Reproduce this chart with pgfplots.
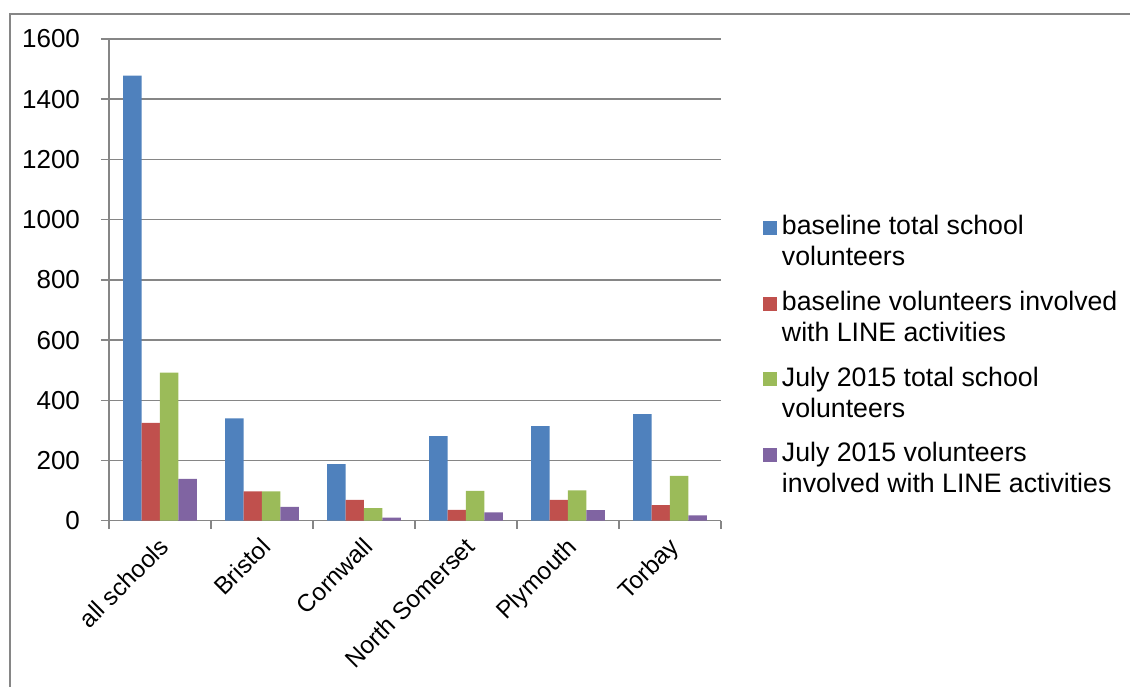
\documentclass[border=0pt]{standalone}
\usepackage{pgfplots}
\pgfplotsset{compat=1.18}
\usepackage{fontspec}
\setmainfont{Liberation Sans}
\definecolor{sblue}{HTML}{4F81BD}
\definecolor{sred}{HTML}{C0504D}
\definecolor{sgreen}{HTML}{9BBB59}
\definecolor{spurple}{HTML}{8064A2}
\definecolor{axgray}{HTML}{868686}
\begin{document}
\fontsize{13}{15.5}\selectfont
\begin{tikzpicture}
\useasboundingbox (-54.5pt,-82.65pt) rectangle (510.5pt,260.35pt);
\draw[color=axgray, line width=1pt] (-49.65pt,-120pt) |- (620pt,253.5pt);
\begin{axis}[
  scale only axis,
  width=306pt, height=240.85pt,
  ybar=0pt, bar width=0.181,
  xmin=-0.5, xmax=5.5,
  ymin=0, ymax=1600,
  enlargelimits=false,
  ytick={0,200,...,1600},
  xtick={-0.5,0.5,...,5.5},
  x tick label as interval,
  xticklabels={all schools,Bristol,Cornwall,North Somerset,Plymouth,Torbay},
  axis x line*=bottom, axis y line*=left,
  axis line style={axgray, line width=0.75pt},
  tick align=outside,
  major tick length=4pt,
  tick style={axgray, line width=0.75pt},
  ymajorgrids, grid style={axgray, line width=0.75pt},
  scaled y ticks=false,
  /pgf/number format/1000 sep={},
  /pgf/number format/assume math mode=true,
  tick label style={font=\fontsize{13}{15.5}\selectfont, text=black},
  yticklabel style={xshift=-6pt},
  xticklabel style={font=\fontsize{12.2}{14.5}\selectfont, xshift=-1.2pt, yshift=-0.6pt, rotate=45, anchor=north east, inner sep=2pt},
  legend image code/.code={\fill[#1] (0pt,0pt) rectangle (7pt,7pt);},
  legend style={at={(1.0686,0.6382)}, anchor=north west, draw=none, fill=none,
    inner sep=0pt, outer sep=0pt, row sep=25pt, column sep=2.5pt,
    cells={anchor=base west},
    nodes={inner sep=0pt, font=\fontsize{13.35}{15.5}\selectfont}},
]
\addplot[fill=sblue, draw=none] coordinates {(0,1478) (1,340) (2,188) (3,281) (4,314) (5,354)};
\addplot[fill=sred, draw=none] coordinates {(0,325) (1,97) (2,69) (3,36) (4,69) (5,52)};
\addplot[fill=sgreen, draw=none] coordinates {(0,492) (1,97) (2,42) (3,99) (4,101) (5,149)};
\addplot[fill=spurple, draw=none] coordinates {(0,139) (1,46) (2,10) (3,28) (4,35) (5,18)};
\addlegendentry{\vtop{\hbox{\strut baseline total school}\hbox{\strut volunteers}}}
\addlegendentry{\vtop{\hbox{\strut baseline volunteers involved}\hbox{\strut with LINE activities}}}
\addlegendentry{\vtop{\hbox{\strut July 2015 total school}\hbox{\strut volunteers}}}
\addlegendentry{\vtop{\hbox{\strut July 2015 volunteers}\hbox{\strut involved with LINE activities}}}
\end{axis}
\end{tikzpicture}
\end{document}
